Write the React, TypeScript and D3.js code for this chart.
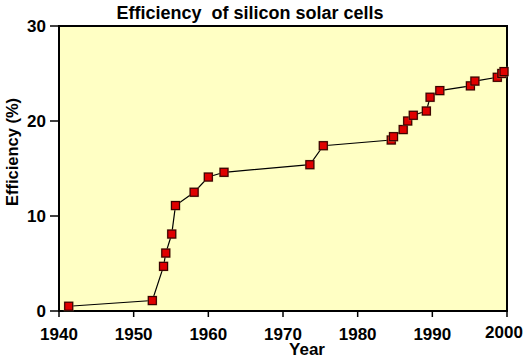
import { useMemo } from 'react'
import { scaleLinear, line } from 'd3'

// efficiency of silicon solar cells over time
const years = [
  1941.3, 1952.5, 1954.0, 1954.3, 1955.1, 1955.6, 1958.1, 1960.0, 1962.1,
  1973.6, 1975.4, 1984.5, 1984.8, 1986.1, 1986.7, 1987.45, 1989.2, 1989.7,
  1991.0, 1995.1, 1995.7, 1998.7, 1999.3, 1999.6,
]
const efficiency = [
  0.5, 1.1, 4.7, 6.1, 8.1, 11.1, 12.5, 14.1, 14.6,
  15.4, 17.4, 18.0, 18.35, 19.1, 20.0, 20.6, 21.05, 22.5,
  23.2, 23.7, 24.2, 24.6, 25.0, 25.2,
]
const xTicks = [1940, 1950, 1960, 1970, 1980, 1990, 2000]
const yTicks = [0, 10, 20, 30]

const W = 532
const H = 362
const left = 59
const right = 507
const top = 26
const bottom = 311
const font = '"Liberation Sans", Arial, sans-serif'

const App = () => {
  const x = scaleLinear().domain([1940, 2000]).range([left, right])
  const y = scaleLinear().domain([0, 30]).range([bottom, top])

  const points = useMemo(() => years.map((yr, i) => [yr, efficiency[i]] as [number, number]), [])
  const path = line<[number, number]>().x(d => x(d[0])).y(d => y(d[1]))(points)

  const s = 8

  return (
    <svg width={W} height={H} style={{ position: 'absolute', left: 0, top: 0, background: '#fff' }}
      fontFamily={font} fontWeight="bold">
      <rect x={left} y={top} width={right - left} height={bottom - top} fill="#ffffc4" stroke="#000" strokeWidth={2} />

      <text x={250} y={19} textAnchor="middle" fontSize={18} style={{ whiteSpace: 'pre' }}>
        Efficiency  of silicon solar cells
      </text>

      {/* y axis */}
      {yTicks.map(t => (
        <g key={t}>
          <line x1={left - 9} x2={left} y1={y(t)} y2={y(t)} stroke="#000" strokeWidth={1.5} />
          <text x={left - 13} y={y(t)} dy="0.36em" textAnchor="end" fontSize={17}>{t}</text>
        </g>
      ))}
      {/* x axis */}
      {xTicks.map(t => (
        <g key={t}>
          <line x1={x(t)} x2={x(t)} y1={bottom} y2={bottom + 6} stroke="#000" strokeWidth={1.5} />
          <text x={t === 2000 ? x(t) - 3 : x(t)} y={t === 2000 ? 338 : 340} textAnchor="middle" fontSize={17}>{t}</text>
        </g>
      ))}

      <text transform="translate(18, 152) rotate(-90)" textAnchor="middle" fontSize={16.5}>
        Efficiency (%)
      </text>
      <text x={307} y={355} textAnchor="middle" fontSize={17}>Year</text>

      <path d={path ?? ''} fill="none" stroke="#000" strokeWidth={1.2} />

      {points.map((d, i) => (
        <g key={i}>
          <rect x={x(d[0]) - s / 2 - 1} y={y(d[1]) - s / 2 - 1} width={s + 2} height={s + 2} fill="#b8a870" opacity={0.5} />
          <rect x={x(d[0]) - s / 2} y={y(d[1]) - s / 2} width={s} height={s} fill="#e00000" stroke="#3a0000" strokeWidth={1.2} />
        </g>
      ))}
    </svg>
  )
}

export default App
